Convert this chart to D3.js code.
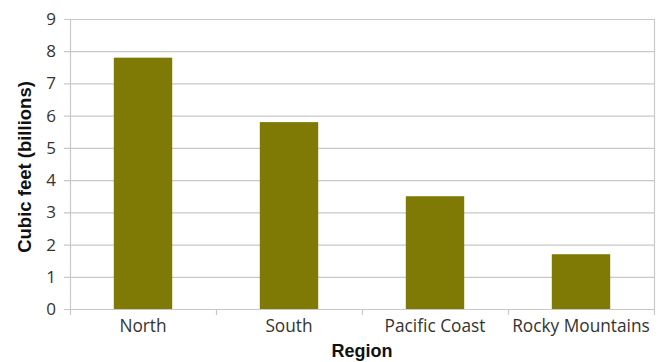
<!DOCTYPE html>
<html><head><meta charset="utf-8">
<script src="https://cdn.jsdelivr.net/npm/d3@7"></script>
<style>body{margin:0;background:#fff}svg{display:block}text{font-family:"Liberation Sans",Arial,sans-serif}</style>
</head><body>
<script>
const categories = ["North", "South", "Pacific Coast", "Rocky Mountains"];
const values = [7.8, 5.8, 3.5, 1.7];
const yTicks = [0,1,2,3,4,5,6,7,8,9];

const W = 664, H = 362;
const m = {left: 70, right: 10, top: 19, bottom: 53};
const svg = d3.select("body").append("svg").attr("width", W).attr("height", H);
const x = d3.scaleBand().domain(categories).range([m.left, W - m.right]).paddingInner(0.6).paddingOuter(0.3);
const xb = d3.scaleBand().domain(categories).range([m.left, W - m.right]);
const y = d3.scaleLinear().domain([0, 9]).range([H - m.bottom, m.top]);
const grid = "#c8c8c8";

// gridlines
svg.append("g").selectAll("line").data(yTicks).join("line")
  .attr("x1", m.left - 6).attr("x2", W - m.right)
  .attr("y1", d => y(d) + 0.5).attr("y2", d => y(d) + 0.5)
  .attr("stroke", grid).attr("stroke-width", 1.2);
// left and right vertical lines
svg.append("line").attr("x1", m.left + 0.5).attr("x2", m.left + 0.5).attr("y1", y(9)).attr("y2", y(0) + 6).attr("stroke", grid).attr("stroke-width", 1.2);
svg.append("line").attr("x1", W - m.right + 0.5).attr("x2", W - m.right + 0.5).attr("y1", y(9)).attr("y2", y(0) + 6).attr("stroke", grid).attr("stroke-width", 1.2);
// category separators ticks
svg.append("g").selectAll("line").data(categories.slice(1)).join("line")
  .attr("x1", d => xb(d) + 0.5).attr("x2", d => xb(d) + 0.5)
  .attr("y1", y(0)).attr("y2", y(0) + 6).attr("stroke", grid).attr("stroke-width", 1.2);

// bars
svg.append("g").selectAll("rect").data(values).join("rect")
  .attr("x", (d, i) => x(categories[i])).attr("width", x.bandwidth())
  .attr("y", d => y(d)).attr("height", d => y(0) - y(d))
  .attr("fill", "#7f7a06");

// y tick labels
svg.append("g").selectAll("text").data(yTicks).join("text")
  .attr("x", m.left - 14).attr("y", d => y(d) + 6)
  .attr("text-anchor", "end").attr("font-size", 17).attr("fill", "#333")
  .style("font-family", "'Open Sans', sans-serif")
  .text(d => d);
// x labels
svg.append("g").selectAll("text").data(categories).join("text")
  .attr("x", d => xb(d) + xb.bandwidth() / 2).attr("y", y(0) + 23)
  .attr("text-anchor", "middle").attr("font-size", 17.3).attr("fill", "#333")
  .style("font-family", "'Open Sans', sans-serif")
  .text(d => d);
// axis titles
svg.append("text").attr("x", (m.left + W - m.right) / 2).attr("y", 357)
  .attr("text-anchor", "middle").attr("font-size", 18).attr("font-weight", "bold").attr("fill", "#111").text("Region");
svg.append("text").attr("transform", `translate(31,167) rotate(-90)`)
  .attr("text-anchor", "middle").attr("font-size", 18.5).attr("font-weight", "bold").attr("fill", "#111").text("Cubic feet (billions)");
</script>
</body></html>
